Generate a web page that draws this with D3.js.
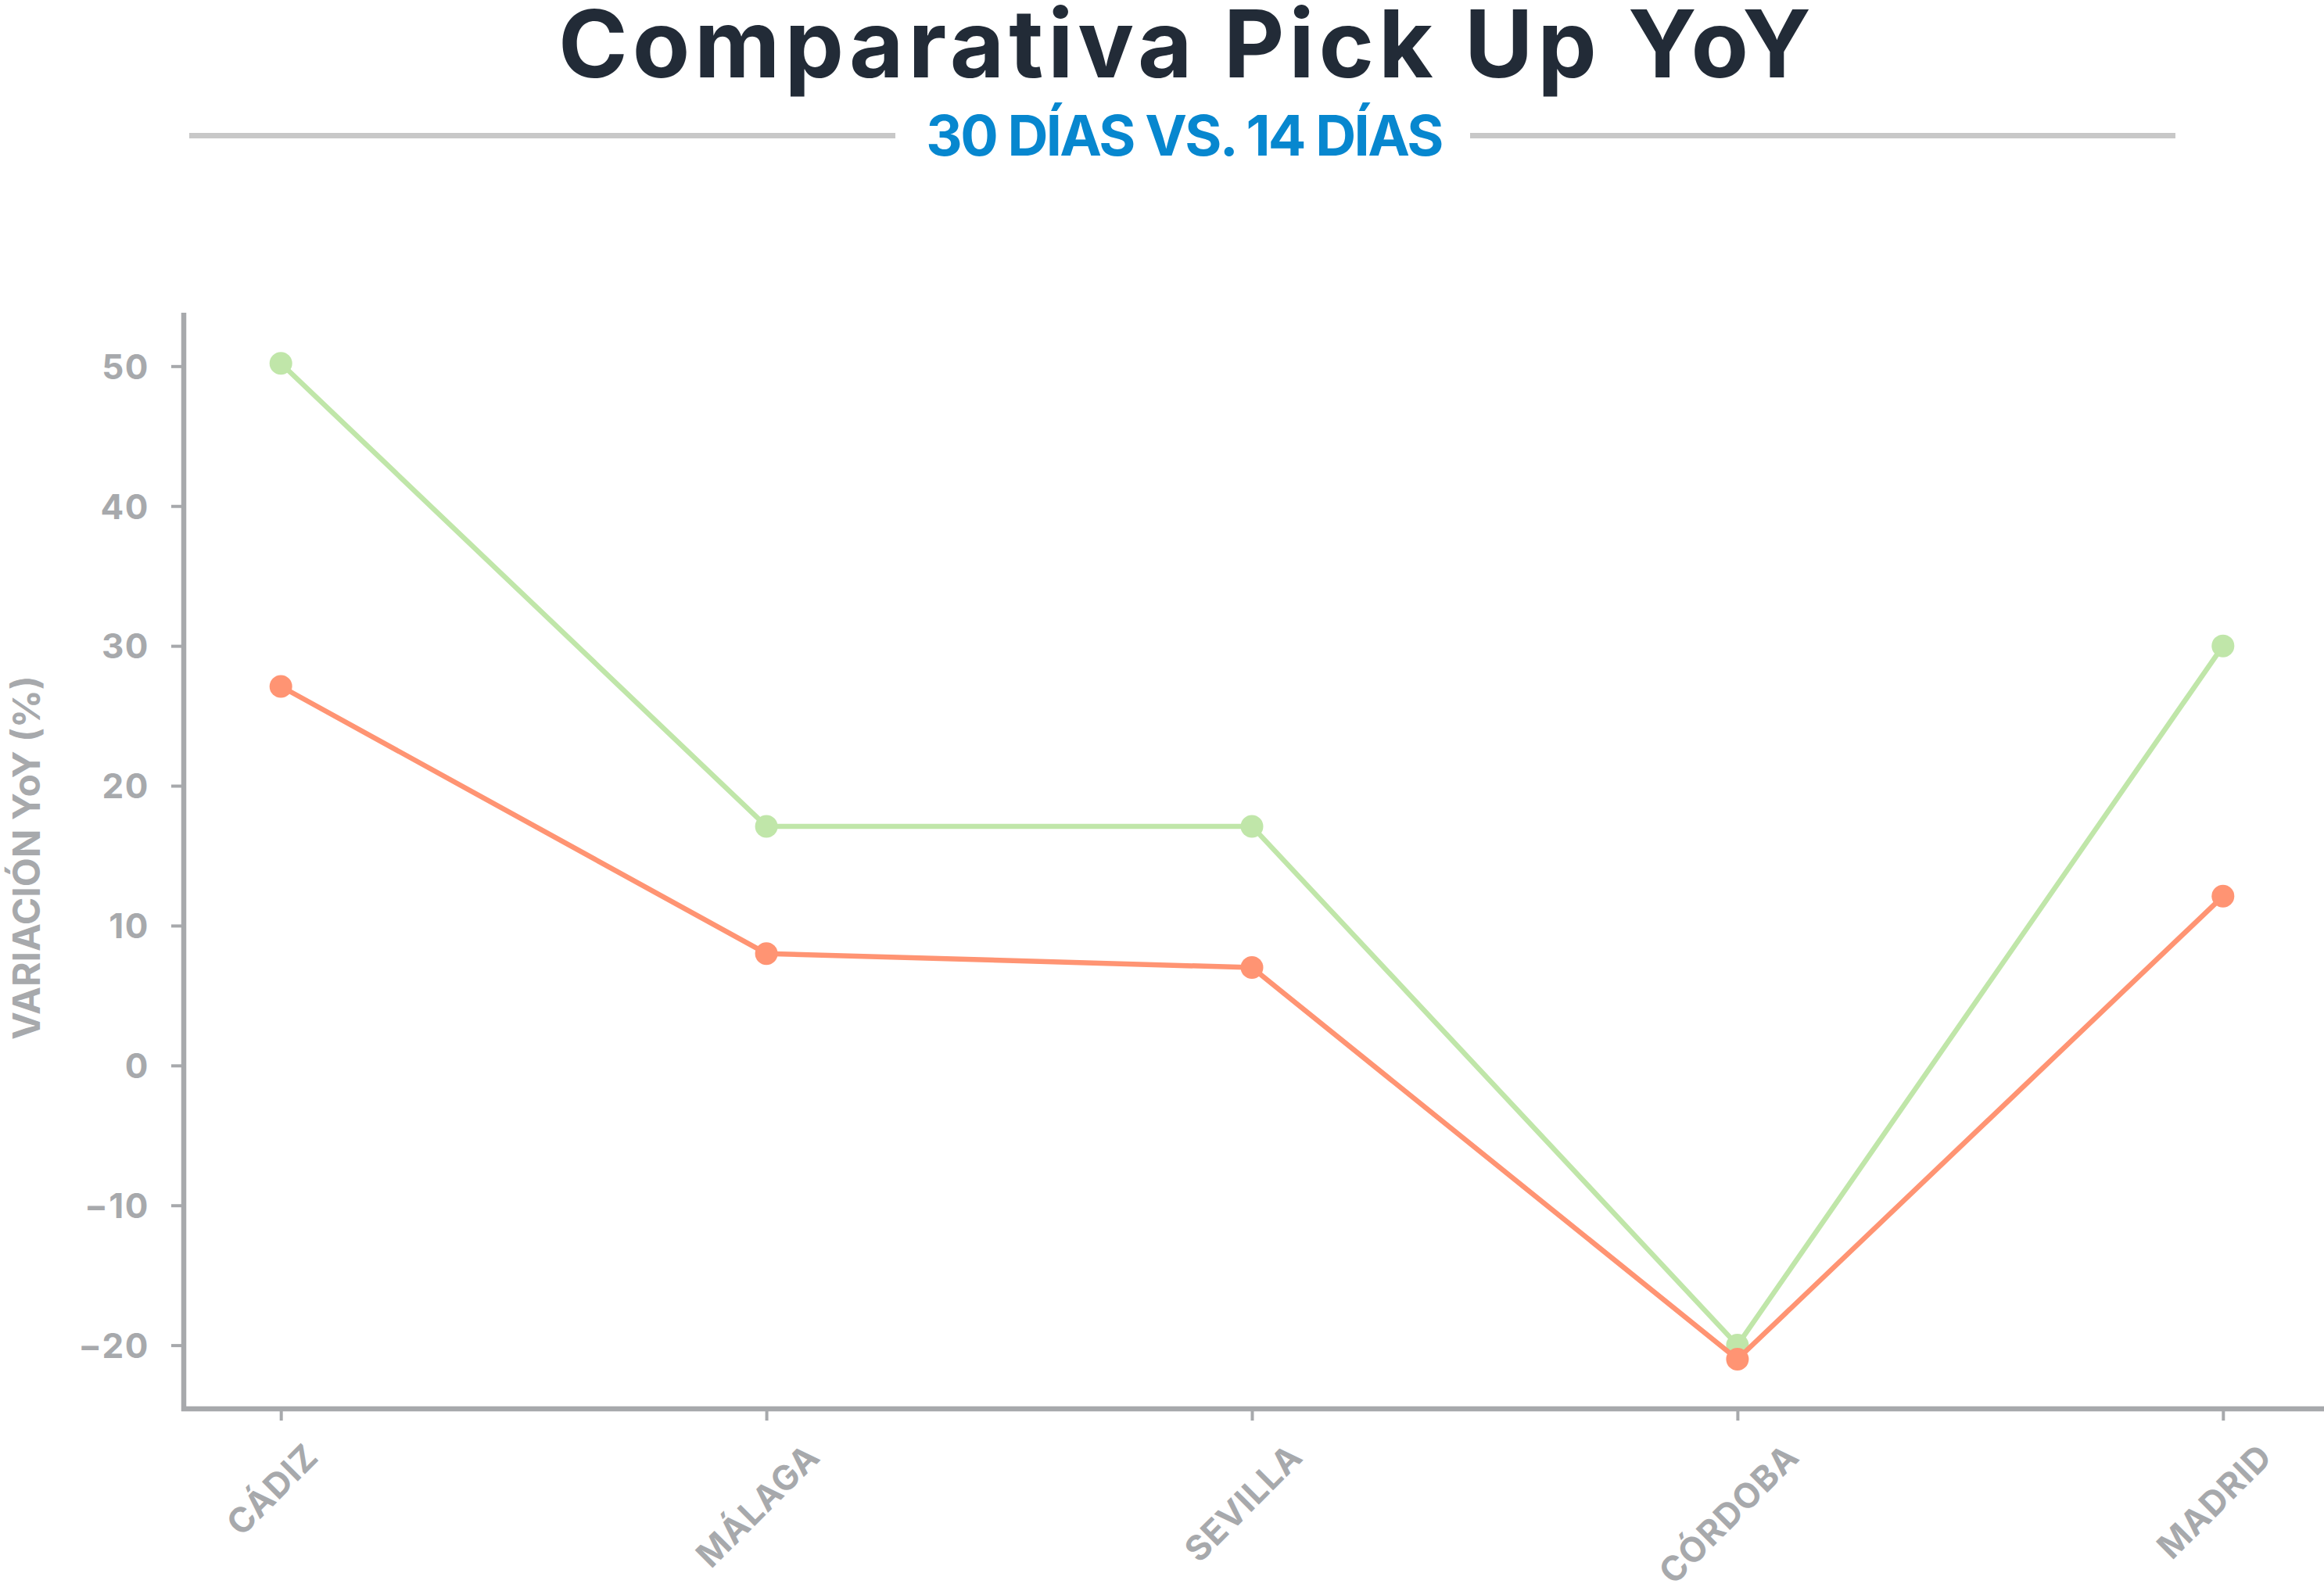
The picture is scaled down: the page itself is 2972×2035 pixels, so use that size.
<!DOCTYPE html>
<html>
<head>
<meta charset="utf-8">
<script src="https://cdn.jsdelivr.net/npm/d3@7"></script>
<style>
  html, body { margin: 0; padding: 0; background: #ffffff; }
  svg { display: block; }
</style>
</head>
<body>
<svg id="chart" width="2972" height="2035"></svg>
<script>
// ---- Data ----
const categories = ["CÁDIZ", "MÁLAGA", "SEVILLA", "CÓRDOBA", "MADRID"];
const series30 = [50.2, 17.1, 17.1, -20, 30];   // green
const series14 = [27.1, 8, 7, -21, 12.1];      // orange
const yTicks = [-20, -10, 0, 10, 20, 30, 40, 50];
const titleText = "Comparativa Pick Up YoY";
const subtitleText = "30 DÍAS VS. 14 DÍAS";
const yAxisTitle = "VARIACIÓN YoY (%)";

// ---- Setup ----
const W = 2972, H = 2035;
const svg = d3.select("#chart");
const FONT = "Inter, 'Open Sans', 'Noto Sans', sans-serif";
const GRAY = "#a7a9ac";

const x = d3.scalePoint().domain(categories).range([235, 2967]).padding(0.2);
const y = d3.scaleLinear().domain([-24.55, 53.82]).range([1802, 400]);

function fitSpacing(sel, target) {
  const n = sel.node();
  const w = n.getComputedTextLength();
  const chars = sel.text().length;
  sel.attr("letter-spacing", (target - w) / (chars - 1));
}

// ---- Title ----
const title = svg.append("text")
  .attr("x", 1518).attr("y", 99)
  .attr("text-anchor", "middle")
  .attr("font-family", FONT)
  .attr("font-weight", 700)
  .attr("font-size", 120)
  .attr("fill", "#222b37")
  .text(titleText);
fitSpacing(title, 1602);

const sub = svg.append("text")
  .attr("x", 1514).attr("y", 199)
  .attr("text-anchor", "middle")
  .attr("font-family", FONT)
  .attr("font-weight", 700)
  .attr("font-size", 72)
  .attr("fill", "#0787cf")
  .text(subtitleText);
fitSpacing(sub, 662);

svg.append("line").attr("x1", 242).attr("x2", 1145).attr("y1", 173.5).attr("y2", 173.5)
  .attr("stroke", "#c8c8c8").attr("stroke-width", 7);
svg.append("line").attr("x1", 1880).attr("x2", 2782).attr("y1", 173.5).attr("y2", 173.5)
  .attr("stroke", "#c8c8c8").attr("stroke-width", 7);

// ---- Axes ----
const yAxis = svg.append("g")
  .attr("transform", "translate(235,0)")
  .call(d3.axisLeft(y).tickValues(yTicks).tickSize(16).tickPadding(28));
yAxis.select(".domain").attr("stroke", GRAY).attr("stroke-width", 6.5)
  .attr("d", `M0,${400}V${1805}`);
yAxis.selectAll(".tick line").attr("stroke", GRAY).attr("stroke-width", 4);
yAxis.selectAll(".tick text")
  .attr("font-family", FONT).attr("font-weight", 700)
  .attr("font-size", 44).attr("fill", GRAY).attr("dy", "0.36em")
  .attr("letter-spacing", 1.5);

const xAxis = svg.append("g")
  .attr("transform", "translate(0,1802)")
  .call(d3.axisBottom(x).tickSize(15).tickFormat(() => ""));
xAxis.select(".domain").attr("stroke", GRAY).attr("stroke-width", 6.5)
  .attr("d", `M232,0H${W}`);
xAxis.selectAll(".tick line").attr("stroke", GRAY).attr("stroke-width", 4);

// rotated x labels: centred on tick, upper end at fixed height
const xl = svg.append("g");
categories.forEach(c => {
  const t = xl.append("text")
    .attr("font-family", FONT).attr("font-weight", 700)
    .attr("font-size", 44).attr("fill", GRAY)
    .attr("letter-spacing", 1)
    .attr("text-anchor", "middle")
    .text(c);
  const L = t.node().getComputedTextLength();
  const cx = x(c), cy = 1866 + L * Math.SQRT1_2 / 2;
  t.attr("transform", `translate(${cx},${cy}) rotate(-45)`);
});

// y-axis title
svg.append("text")
  .attr("transform", "translate(51,1097) rotate(-90)")
  .attr("text-anchor", "middle")
  .attr("font-family", FONT).attr("font-weight", 700)
  .attr("font-size", 48).attr("fill", GRAY)
  .text(yAxisTitle);

// ---- Lines and points ----
const seriesList = [
  { values: series30, color: "#c0e6a9" },
  { values: series14, color: "#ff9473" }
];
const line = d3.line().x((d, i) => x(categories[i])).y(d => y(d));
seriesList.forEach(s => {
  const g = svg.append("g");
  g.append("path").datum(s.values)
    .attr("d", line).attr("fill", "none")
    .attr("stroke", s.color).attr("stroke-width", 6.5)
    .attr("stroke-linejoin", "round");
  g.selectAll("circle").data(s.values).join("circle")
    .attr("cx", (d, i) => x(categories[i]))
    .attr("cy", d => y(d))
    .attr("r", 14.5)
    .attr("fill", s.color);
});
</script>
</body>
</html>
